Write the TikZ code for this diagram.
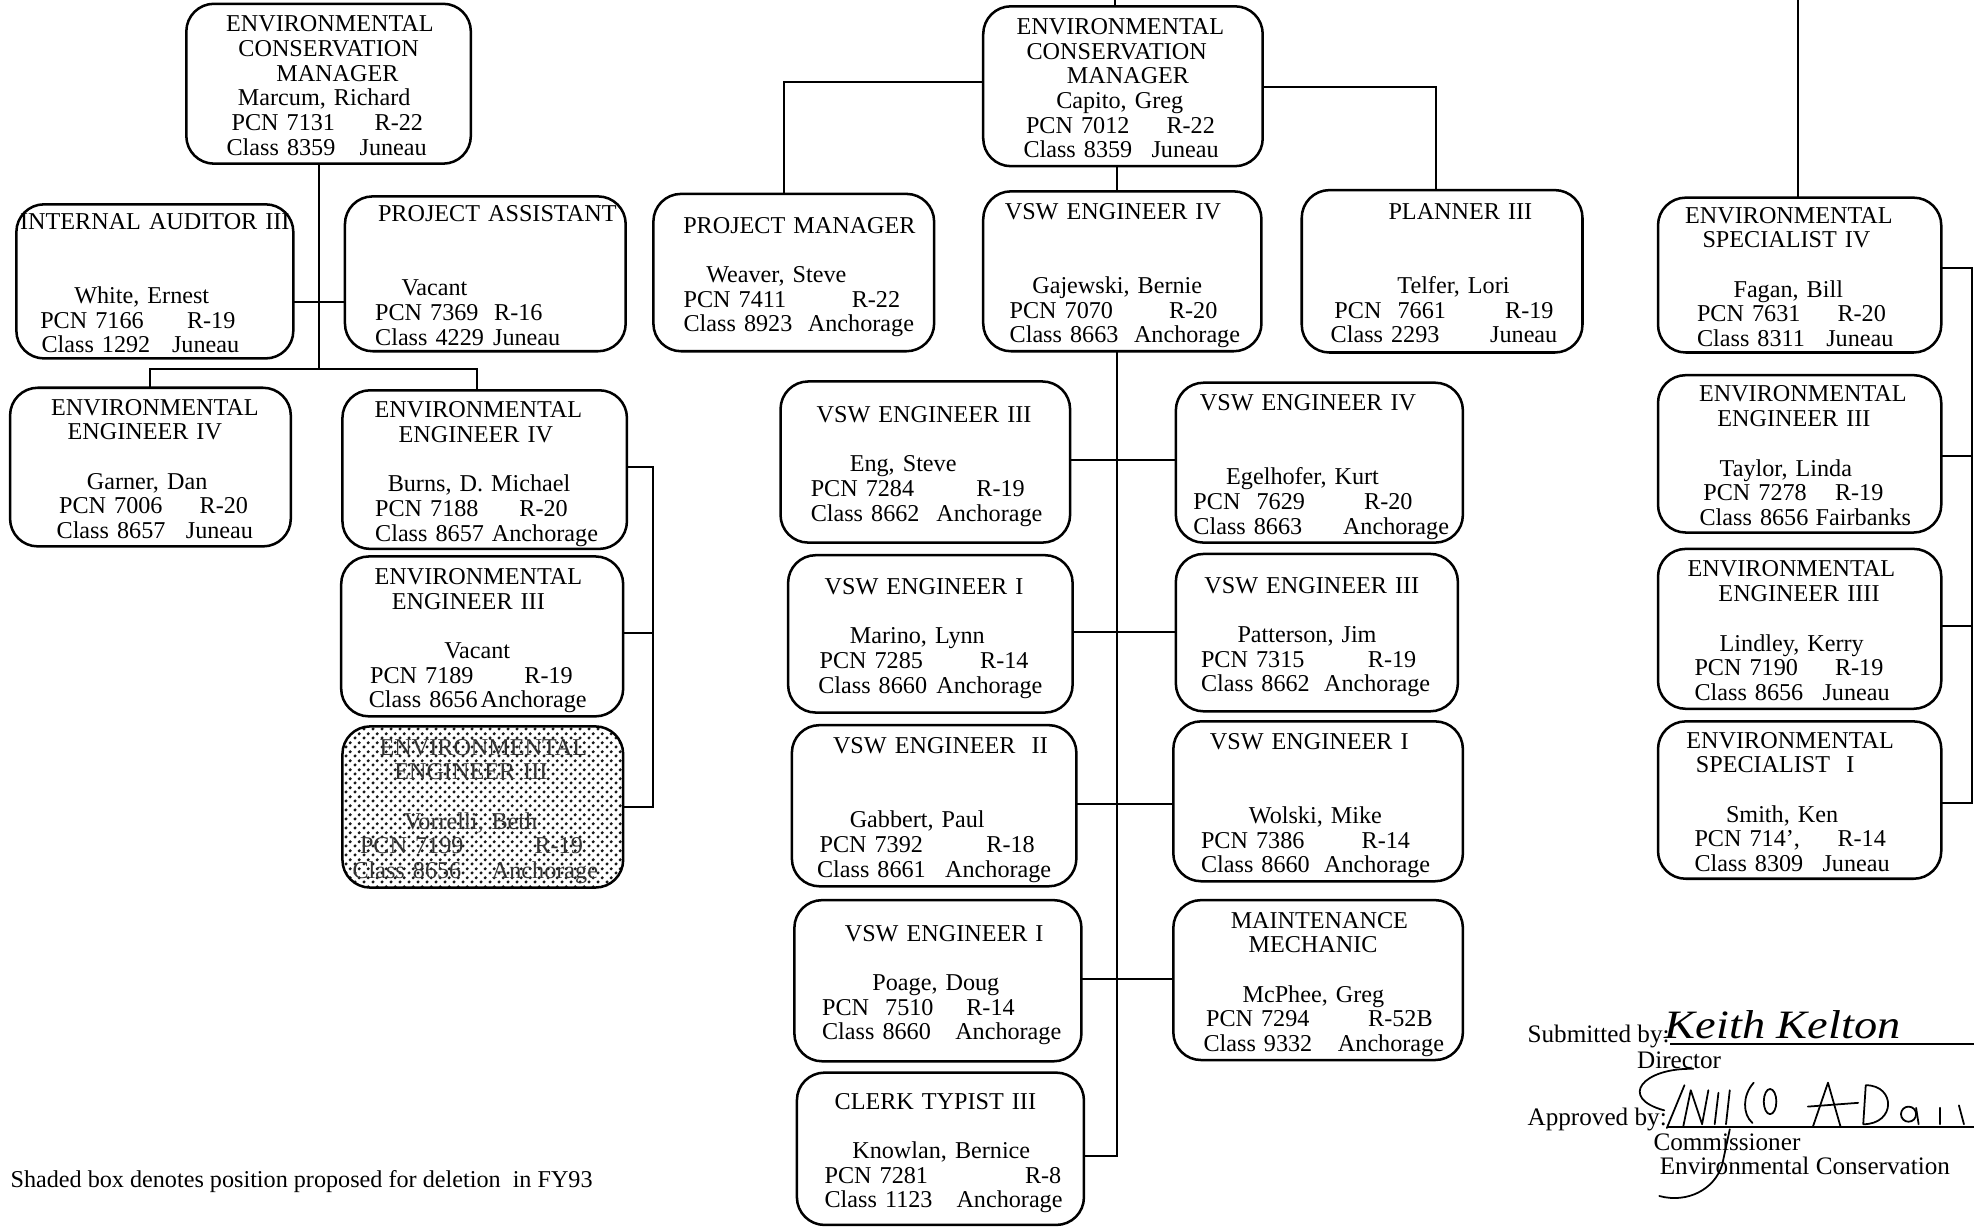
\documentclass[tikz,border=0pt]{standalone}
\usepackage{fontspec}
\setmainfont{Liberation Serif}
\usetikzlibrary{patterns}

% fine offset dot screen used for the shaded position
\pgfdeclarepatternformonly{screendots}{\pgfqpoint{0pt}{0pt}}{\pgfqpoint{3.6pt}{3.6pt}}{\pgfqpoint{3.6pt}{3.6pt}}{%
  \pgfpathcircle{\pgfqpoint{0.9pt}{0.9pt}}{0.72pt}%
  \pgfpathcircle{\pgfqpoint{2.7pt}{2.7pt}}{0.72pt}%
  \pgfusepath{fill}}

\newdimen\unitpx \unitpx=0.5pt
\newcommand\boxfont{\fontsize{9.6}{9.8}\selectfont\parindent=0pt}
% centred title line, name line, and two-part line (left text ... right text)
\newcommand\cardT[2]{\hspace*{\dimexpr\unitpx*\numexpr#1-\bxl\relax\relax}\makebox[0pt]{#2}}
\newcommand\cardN[2]{\hspace*{\dimexpr\unitpx*\numexpr#1-\bxl\relax\relax}\makebox[0pt][l]{#2}}
\newcommand\cardP[4]{\hspace*{\dimexpr\unitpx*\numexpr#1-\bxl\relax\relax}\makebox[0pt][l]{\makebox[\dimexpr\unitpx*\numexpr#2-#1\relax\relax]{#3\hfill#4}}}
% \card{style}{name}{x1}{y1}{x2}{y2}{lines}
\newcommand\card[7]{%
  \def\bxl{#3}%
  \pgfmathsetlengthmacro\cardw{(#5-#3)*0.5pt}%
  \pgfmathsetlengthmacro\cardh{(#6-#4)*0.5pt}%
  \node[#1, minimum width=\cardw, minimum height=\cardh, text width=\cardw]
    (#2) at ({(#3+#5)/2},{(#4+#6)/2}) {\rule{0pt}{10pt}#7\rule[-2.2pt]{0pt}{0pt}};}

\tikzset{
  posbox/.style={draw, line width=1pt, rounded corners=11pt, inner sep=0pt,
    outer sep=0pt, align=left, font=\boxfont},
  cutbox/.style={posbox, pattern=screendots, pattern color=black!90, text=black!80},
  wire/.style={line width=0.8pt},
  sign/.style={line width=0.7pt, line cap=round, line join=round},
  note/.style={font=\fontsize{10}{11}\selectfont, inner sep=0pt, anchor=base west}
}

\begin{document}
\begin{tikzpicture}[x=0.5pt,y=-0.5pt]
\fill[white] (0,0) rectangle (1568,975);
\useasboundingbox (0,0) rectangle (1568,975);

% ---------------- left unit ----------------
\card{posbox}{m1}{148}{3}{374}{130}{%
 \cardT{262}{ENVIRONMENTAL}\\ \cardT{261}{CONSERVATION}\\ \cardT{268}{MANAGER}\\
 \cardN{189}{Marcum, Richard}\\ \cardP{184}{336}{PCN 7131}{R-22}\\ \cardP{180}{339}{Class 8359}{Juneau}}
\card{posbox}{ia}{13}{163}{233}{284}{%
 \cardT{123}{INTERNAL AUDITOR III}\\[19.6pt]
 \cardN{59}{White, Ernest}\\ \cardP{32}{187}{PCN 7166}{R-19}\\ \cardP{33}{190}{Class 1292}{Juneau}}
\card{posbox}{pa}{274}{156}{497}{279}{%
 \cardT{395}{PROJECT ASSISTANT}\\[19.6pt]
 \cardN{319}{Vacant}\\ \cardP{298}{431}{PCN 7369}{R-16}\\ \cardP{298}{445}{Class 4229}{Juneau}}
\card{posbox}{ee4a}{8}{308}{231}{434}{%
 \cardT{123}{ENVIRONMENTAL}\\ \cardT{115}{ENGINEER IV}\\[9.8pt]
 \cardN{69}{Garner, Dan}\\ \cardP{47}{197}{PCN 7006}{R-20}\\ \cardP{45}{201}{Class 8657}{Juneau}}
\card{posbox}{ee4b}{272}{310}{498}{436}{%
 \cardT{380}{ENVIRONMENTAL}\\ \cardT{378}{ENGINEER IV}\\[9.8pt]
 \cardN{308}{Burns, D. Michael}\\ \cardP{298}{451}{PCN 7188}{R-20}\\ \cardP{298}{475}{Class 8657}{Anchorage}}
\card{posbox}{ee3}{271}{442}{495}{569}{%
 \cardT{380}{ENVIRONMENTAL}\\ \cardT{372}{ENGINEER III}\\[9.8pt]
 \cardN{353}{Vacant}\\ \cardP{294}{455}{PCN 7189}{R-19}\\ \cardP{293}{466}{Class 8656}{Anchorage}}
\card{cutbox}{sh}{272}{577}{495}{705}{%
 \cardT{384}{ENVIRONMENTAL}\\ \cardT{374}{ENGINEER III}\\[9.8pt]
 \cardN{321}{Vorrelli, Beth}\\ \cardP{286}{463}{PCN 7199}{R-19}\\ \cardP{280}{475}{Class 8656}{Anchorage}}

\coordinate (lhub) at (253,240);
\coordinate (lbar) at (253,293);
\coordinate (lbarL) at (119,293);
\coordinate (lbarR) at (379,293);
\draw[wire] (m1.south -| lbar) -- (lbar);
\draw[wire] (ia.east |- lhub) -- (pa.west |- lhub);
\draw[wire] (ee4a.north -| lbarL) -- (lbarL) -- (lbarR) -- (ee4b.north -| lbarR);
\coordinate (lb1) at (519,371);
\coordinate (lb2) at (519,503);
\coordinate (lb3) at (519,641);
\draw[wire] (ee4b.east |- lb1) -- (lb1) -- (lb3) -- (sh.east |- lb3);
\draw[wire] (ee3.east |- lb2) -- (lb2);

% ---------------- middle unit ----------------
\card{posbox}{cm}{781}{5}{1003}{132}{%
 \cardT{890}{ENVIRONMENTAL}\\ \cardT{887}{CONSERVATION}\\ \cardT{896}{MANAGER}\\
 \cardN{839}{Capito, Greg}\\ \cardP{815}{965}{PCN 7012}{R-22}\\ \cardP{813}{968}{Class 8359}{Juneau}}
\card{posbox}{pm}{519}{154}{742}{279}{%
 \cardT{635}{PROJECT MANAGER}\\[9.8pt]
 \cardN{561}{Weaver, Steve}\\ \cardP{543}{715}{PCN 7411}{R-22}\\ \cardP{543}{726}{Class 8923}{Anchorage}}
\card{posbox}{v4}{781}{152}{1002}{279}{%
 \cardT{884}{VSW ENGINEER IV}\\[19.6pt]
 \cardN{820}{Gajewski, Bernie}\\ \cardP{802}{967}{PCN 7070}{R-20}\\ \cardP{802}{985}{Class 8663}{Anchorage}}
\card{posbox}{pl}{1034}{151}{1257}{280}{%
 \cardT{1160}{PLANNER III}\\[19.6pt]
 \cardN{1110}{Telfer, Lori}\\ \cardP{1060}{1234}{PCN\ \ 7661}{R-19}\\ \cardP{1057}{1237}{Class 2293}{Juneau}}
\card{posbox}{v3a}{620}{303}{850}{431}{%
 \cardT{734}{VSW ENGINEER III}\\[9.8pt]
 \cardN{675}{Eng, Steve}\\ \cardP{644}{814}{PCN 7284}{R-19}\\ \cardP{644}{828}{Class 8662}{Anchorage}}
\card{posbox}{v1a}{626}{441}{852}{566}{%
 \cardT{734}{VSW ENGINEER I}\\[9.8pt]
 \cardN{675}{Marino, Lynn}\\ \cardP{651}{817}{PCN 7285}{R-14}\\ \cardP{650}{828}{Class 8660}{Anchorage}}
\card{posbox}{v2}{629}{576}{855}{704}{%
 \cardT{747}{VSW ENGINEER\ \ II}\\[19.6pt]
 \cardN{675}{Gabbert, Paul}\\ \cardP{651}{822}{PCN 7392}{R-18}\\ \cardP{649}{835}{Class 8661}{Anchorage}}
\card{posbox}{v1b}{631}{715}{859}{843}{%
 \cardT{750}{VSW ENGINEER I}\\[9.8pt]
 \cardN{693}{Poage, Doug}\\ \cardP{653}{806}{PCN\ \ 7510}{R-14}\\ \cardP{653}{843}{Class 8660}{Anchorage}}
\card{posbox}{ct}{633}{852}{861}{973}{%
 \cardT{743}{CLERK TYPIST III}\\[9.8pt]
 \cardN{677}{Knowlan, Bernice}\\ \cardP{655}{843}{PCN 7281}{R-8}\\ \cardP{655}{844}{Class 1123}{Anchorage}}
\card{posbox}{v4b}{934}{304}{1162}{431}{%
 \cardT{1039}{VSW ENGINEER IV}\\[19.6pt]
 \cardN{974}{Egelhofer, Kurt}\\ \cardP{948}{1122}{PCN\ \ 7629}{R-20}\\ \cardP{948}{1151}{Class 8663}{Anchorage}}
\card{posbox}{v3b}{934}{440}{1158}{565}{%
 \cardT{1042}{VSW ENGINEER III}\\[9.8pt]
 \cardN{983}{Patterson, Jim}\\ \cardP{954}{1125}{PCN 7315}{R-19}\\ \cardP{954}{1136}{Class 8662}{Anchorage}}
\card{posbox}{v1c}{932}{573}{1162}{700}{%
 \cardT{1040}{VSW ENGINEER I}\\[19.6pt]
 \cardN{992}{Wolski, Mike}\\ \cardP{954}{1120}{PCN 7386}{R-14}\\ \cardP{954}{1136}{Class 8660}{Anchorage}}
\card{posbox}{mm}{932}{715}{1162}{842}{%
 \cardT{1048}{MAINTENANCE}\\ \cardT{1043}{MECHANIC}\\[9.8pt]
 \cardN{987}{McPhee, Greg}\\ \cardP{958}{1138}{PCN 7294}{R-52B}\\ \cardP{956}{1147}{Class 9332}{Anchorage}}

\coordinate (ctop) at (886,0);
\coordinate (capL) at (623,65);
\coordinate (capR) at (1141,69);
\coordinate (spx) at (887,0);
\coordinate (spB) at (887,918);
\draw[wire] (cm.north -| ctop) -- (ctop);
\draw[wire] (cm.west |- capL) -- (capL) -- (pm.north -| capL);
\draw[wire] (cm.east |- capR) -- (capR) -- (pl.north -| capR);
\draw[wire] (cm.south -| spx) -- (v4.north -| spx);
\draw[wire] (v4.south -| spx) -- (spB) -- (ct.east |- spB);
\coordinate (r1) at (887,365);
\coordinate (r2) at (887,502);
\coordinate (r3) at (887,639);
\coordinate (r4) at (887,778);
\draw[wire] (v3a.east |- r1) -- (v4b.west |- r1);
\draw[wire] (v1a.east |- r2) -- (v3b.west |- r2);
\draw[wire] (v2.east |- r3) -- (v1c.west |- r3);
\draw[wire] (v1b.east |- r4) -- (mm.west |- r4);

% ---------------- right unit ----------------
\card{posbox}{es4}{1317}{157}{1542}{280}{%
 \cardT{1421}{ENVIRONMENTAL}\\ \cardT{1419}{SPECIALIST IV}\\[9.8pt]
 \cardN{1377}{Fagan, Bill}\\ \cardP{1348}{1498}{PCN 7631}{R-20}\\ \cardP{1348}{1504}{Class 8311}{Juneau}}
\card{posbox}{ee3r}{1317}{298}{1542}{423}{%
 \cardT{1432}{ENVIRONMENTAL}\\ \cardT{1425}{ENGINEER III}\\[9.8pt]
 \cardN{1366}{Taylor, Linda}\\ \cardP{1353}{1496}{PCN 7278}{R-19}\\ \cardP{1350}{1518}{Class 8656}{Fairbanks}}
\card{posbox}{ee4r}{1317}{436}{1542}{563}{%
 \cardT{1423}{ENVIRONMENTAL}\\ \cardT{1429}{ENGINEER IIII}\\[9.8pt]
 \cardN{1366}{Lindley, Kerry}\\ \cardP{1346}{1496}{PCN 7190}{R-19}\\ \cardP{1346}{1501}{Class 8656}{Juneau}}
\card{posbox}{es1}{1317}{573}{1542}{698}{%
 \cardT{1422}{ENVIRONMENTAL}\\ \cardT{1410}{SPECIALIST\ \ I}\\[9.8pt]
 \cardN{1371}{Smith, Ken}\\ \cardP{1346}{1498}{PCN 714',}{R-14}\\ \cardP{1346}{1501}{Class 8309}{Juneau}}

\coordinate (rtop) at (1428,0);
\draw[wire] (rtop) -- (es4.north -| rtop);
\coordinate (rb1) at (1566,213);
\coordinate (rb2) at (1566,362);
\coordinate (rb3) at (1566,497);
\coordinate (rb4) at (1566,638);
\draw[wire] (es4.east |- rb1) -- (rb1) -- (rb4) -- (es1.east |- rb4);
\draw[wire] (ee3r.east |- rb2) -- (rb2);
\draw[wire] (ee4r.east |- rb3) -- (rb3);

% ---------------- footnote and signatures ----------------
\node[note, font=\fontsize{9.6}{10}\selectfont] (fn) at (8,943)
  {Shaded box denotes position proposed for deletion\ \ in FY93};

\coordinate (lineEnd) at (1568,0);
\node[note] (subm) at (1213,828) {Submitted by:};
\draw[line width=0.7pt] ([yshift=-0.6pt]subm.base east) -- ([yshift=-0.6pt]subm.base east -| lineEnd);
\node[note, font=\fontsize{16}{16}\selectfont\itshape, xscale=1.15] (sig1) at (1322,825) {Keith Kelton};
\node[note] (dir) at (1300,849) {Director};
\node[note] (appr) at (1213,894) {Approved by:};
\draw[line width=0.7pt] ([yshift=-0.6pt]appr.base east) -- ([yshift=-0.6pt]appr.base east -| lineEnd);
\node[note] (comm) at (1313,914) {Commissioner};
\node[note] (envc) at (1318,933) {Environmental Conservation};

% handwritten approval mark
\draw[sign] (1345,849) .. controls (1305,848) and (1285,872) .. (1322,882);
\draw[sign] (1338,862) -- (1324,896);
\draw[sign] (1337,895) -- (1343,866) -- (1352,893) -- (1357,866);
\draw[sign] (1365,868) -- (1362,893);
\draw[sign] (1374,866) -- (1371,893);
\draw[sign] (1393,860) .. controls (1384,870) and (1384,885) .. (1392,892);
\draw[sign] (1406,875) ellipse [x radius=5, y radius=10];
\draw[sign] (1440,895) -- (1452,860) -- (1462,895);
\draw[sign] (1436,879) -- (1476,876);
\draw[sign] (1480,893) -- (1482,862) .. controls (1506,862) and (1506,893) .. (1480,893);
\draw[sign] (1516,885) circle [radius=6];
\draw[sign] (1522,880) -- (1524,893);
\draw[sign] (1541,880) -- (1541,893);
\draw[sign] (1556,878) -- (1560,893);
\draw[sign] (1374,897) -- (1368,925) .. controls (1362,945) and (1340,956) .. (1318,950);
\end{tikzpicture}
\end{document}
